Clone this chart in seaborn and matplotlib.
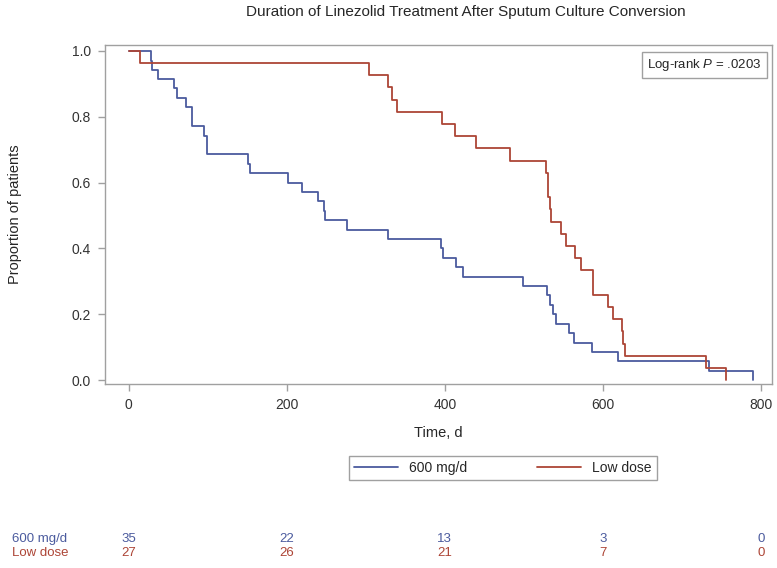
import matplotlib
matplotlib.use("Agg")
import matplotlib.pyplot as plt
import matplotlib.transforms as mtransforms
from matplotlib.lines import Line2D
import seaborn as sns
import pandas as pd

# Kaplan-Meier steps
t_600 = [0, 28, 30, 37, 57, 61, 73, 80, 95, 99, 151, 153, 201, 219, 239, 247, 249, 276,
         328, 395, 398, 414, 423, 499, 529, 533, 537, 541, 557, 564, 586, 619, 734, 790]
s_600 = [1.0, 0.971, 0.943, 0.914, 0.886, 0.857, 0.829, 0.771, 0.743, 0.686, 0.657, 0.629,
         0.600, 0.571, 0.543, 0.514, 0.486, 0.457, 0.429, 0.400, 0.371, 0.343, 0.314, 0.286,
         0.257, 0.229, 0.200, 0.171, 0.143, 0.114, 0.086, 0.057, 0.029, 0.0]

t_low = [0, 14, 304, 328, 333, 339, 396, 413, 439, 483, 528, 530, 531, 533, 535, 547, 554,
         565, 573, 588, 606, 613, 624, 625, 628, 730, 756]
s_low = [1.0, 0.963, 0.926, 0.889, 0.852, 0.815, 0.778, 0.741, 0.704, 0.667, 0.630, 0.593,
         0.556, 0.519, 0.481, 0.444, 0.407, 0.370, 0.333, 0.259, 0.222, 0.185, 0.148, 0.111,
         0.074, 0.037, 0.0]

groups = ["600 mg/d", "Low dose"]
risk_times = [0, 200, 400, 600, 800]
risk_600 = [35, 22, 13, 3, 0]
risk_low = [27, 26, 21, 7, 0]

blue = "#4b5b9e"
red = "#ad4536"
grey = "#a0a0a0"

df = pd.concat([
    pd.DataFrame({"time": t_600, "surv": s_600, "group": groups[0]}),
    pd.DataFrame({"time": t_low, "surv": s_low, "group": groups[1]}),
])

sns.set_style("white")
plt.rcParams["font.family"] = ["Liberation Sans", "DejaVu Sans"]
plt.rcParams["mathtext.fontset"] = "custom"
plt.rcParams["mathtext.it"] = "Liberation Sans:italic"
plt.rcParams["mathtext.rm"] = "Liberation Sans"

fig = plt.figure(figsize=(7.77, 5.68), dpi=100)
ax = fig.add_axes([0.1351, 0.3239, 0.8584, 0.5968])

sns.lineplot(data=df, x="time", y="surv", hue="group", palette=[blue, red],
             estimator=None, drawstyle="steps-post", linewidth=1.3, legend=False, ax=ax)

ax.set_xlim(-30, 814)
ax.set_ylim(-0.012, 1.018)
ax.set_xticks([0, 200, 400, 600, 800])
ax.set_yticks([0.0, 0.2, 0.4, 0.6, 0.8, 1.0])
ax.set_yticklabels(["0.0", "0.2", "0.4", "0.6", "0.8", "1.0"])
ax.tick_params(axis="both", length=5, width=1, color=grey, labelsize=10,
               labelcolor="#333333", pad=5, direction="out")
ax.tick_params(axis="x", bottom=True)
ax.tick_params(axis="y", left=True)
for sp in ax.spines.values():
    sp.set_color(grey)
    sp.set_linewidth(1)

ax.set_xlabel("Time, d", fontsize=10.5, labelpad=10)
ax.set_ylabel("Proportion of patients", fontsize=10.5, labelpad=36)

ax.text(0.985, 0.965, "Log-rank $P$ = .0203", transform=ax.transAxes, ha="right", va="top",
        fontsize=9.5, bbox=dict(boxstyle="square,pad=0.4", fc="white", ec=grey, lw=1))

fig.text(0.6, 0.979, "Duration of Linezolid Treatment After Sputum Culture Conversion",
         ha="center", va="center", fontsize=11)

handles = [Line2D([], [], color=blue, lw=1.3), Line2D([], [], color=red, lw=1.3)]
leg = fig.legend(handles, groups, loc="center", bbox_to_anchor=(0.647, 0.176), ncol=2,
                 fontsize=10, handlelength=3.2, columnspacing=5.0, fancybox=False,
                 edgecolor=grey, framealpha=1, borderpad=0.35, borderaxespad=0)
leg.get_frame().set_linewidth(1)

# numbers at risk
trans = mtransforms.blended_transform_factory(ax.transData, fig.transFigure)
y1, y2 = 1 - 539 / 568, 1 - 553 / 568
fig.text(12 / 777, y1, groups[0], color=blue, fontsize=9.5, va="center")
fig.text(12 / 777, y2, groups[1], color=red, fontsize=9.5, va="center")
for t, a, b in zip(risk_times, risk_600, risk_low):
    ax.text(t, y1, str(a), transform=trans, color=blue, fontsize=9.5, ha="center", va="center")
    ax.text(t, y2, str(b), transform=trans, color=red, fontsize=9.5, ha="center", va="center")

fig.savefig("out.png", dpi=100)
